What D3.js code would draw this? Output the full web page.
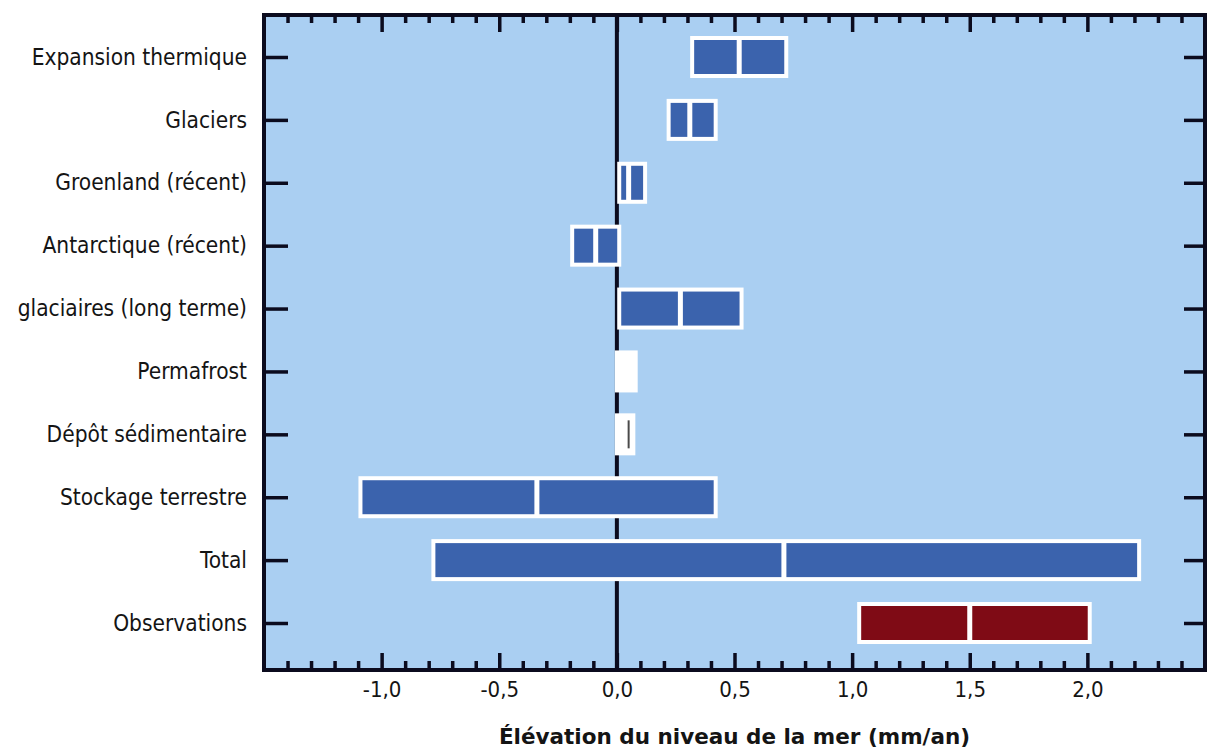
<!DOCTYPE html>
<html lang="fr">
<head>
<meta charset="utf-8">
<script src="https://cdn.jsdelivr.net/npm/d3@7"></script>
<style>
  html, body { margin: 0; padding: 0; background: #ffffff; }
  svg { display: block; }
  .lab { font-family: "DejaVu Sans Condensed", "DejaVu Sans", sans-serif; fill: #141414; }
</style>
</head>
<body>
<svg id="chart" width="1209" height="749"></svg>
<script>
// Contributions to sea-level rise (mm/an): lower bound, central value, upper bound
const categories = [
  "Expansion thermique",
  "Glaciers",
  "Groenland (récent)",
  "Antarctique (récent)",
  "glaciaires (long terme)",
  "Permafrost",
  "Dépôt sédimentaire",
  "Stockage terrestre",
  "Total",
  "Observations"
];
const lowValues  = [0.32, 0.22, 0.01, -0.19, 0.01, 0.00, 0.00, -1.09, -0.78, 1.03];
const midValues  = [0.52, 0.31, 0.05, -0.09, 0.27, null, 0.05, -0.34, 0.71, 1.50];
const highValues = [0.72, 0.42, 0.12,  0.01, 0.53, 0.08, 0.07,  0.42, 2.22, 2.01];

// Rows without a quantified range, and the observed row
const unquantified = ["Permafrost", "Dépôt sédimentaire"];
const observed = ["Observations"];

const xMajorTicks = [-1.0, -0.5, 0.0, 0.5, 1.0, 1.5, 2.0];
const xMajorLabels = ["-1,0", "-0,5", "0,0", "0,5", "1,0", "1,5", "2,0"];
const xDomain = [-1.5, 2.5];
const xTitle = "Élévation du niveau de la mer (mm/an)";

const rows = categories.map((c, i) => ({
  name: c, lo: lowValues[i], mid: midValues[i], hi: highValues[i]
}));

const svg = d3.select("#chart");
const plot = { left: 264, right: 1205, top: 15, bottom: 670 };

const x = d3.scaleLinear().domain(xDomain).range([plot.left, plot.right]);
const y = d3.scalePoint().domain(categories).range([57, 623]);

const minorTicks = d3.range(-14, 25).map(v => v / 10)
  .filter(v => !xMajorTicks.some(m => Math.abs(m - v) < 1e-9));

const ink = "#0b0b1e";
const blue = "#3b63ad";
const red = "#7f0b15";
const bg = "#aacff2";

// plot background
svg.append("rect")
  .attr("x", plot.left).attr("y", plot.top)
  .attr("width", plot.right - plot.left).attr("height", plot.bottom - plot.top)
  .attr("fill", bg);

// zero line
svg.append("line")
  .attr("x1", x(0)).attr("x2", x(0))
  .attr("y1", plot.top).attr("y2", plot.bottom)
  .attr("stroke", ink).attr("stroke-width", 4);

function styleAxis(g, width) {
  g.select(".domain").remove();
  g.selectAll(".tick line").attr("stroke", ink).attr("stroke-width", width);
}

// bottom axis: minor and major ticks pointing inward
svg.append("g")
  .attr("transform", `translate(0,${plot.bottom})`)
  .call(d3.axisBottom(x).tickValues(minorTicks).tickSize(-9).tickFormat(""))
  .call(g => styleAxis(g, 3.5));

svg.append("g")
  .attr("transform", `translate(0,${plot.bottom})`)
  .call(d3.axisBottom(x).tickValues(xMajorTicks).tickSize(-17).tickPadding(11)
    .tickFormat((d, i) => xMajorLabels[i]))
  .call(g => styleAxis(g, 3.5))
  .call(g => g.selectAll(".tick text")
    .attr("class", "lab")
    .attr("font-size", 22)
    .attr("dy", "0.72em"));

// top axis
svg.append("g")
  .attr("transform", `translate(0,${plot.top})`)
  .call(d3.axisTop(x).tickValues(minorTicks).tickSize(-8).tickFormat(""))
  .call(g => styleAxis(g, 3.5));

svg.append("g")
  .attr("transform", `translate(0,${plot.top})`)
  .call(d3.axisTop(x).tickValues(xMajorTicks).tickSize(-17).tickFormat(""))
  .call(g => styleAxis(g, 3.5));

// left axis with category labels
svg.append("g")
  .attr("transform", `translate(${plot.left},0)`)
  .call(d3.axisLeft(y).tickSize(-24).tickPadding(17))
  .call(g => styleAxis(g, 3.5))
  .call(g => g.selectAll(".tick text")
    .attr("class", "lab")
    .attr("font-size", 22.5));

// right axis
svg.append("g")
  .attr("transform", `translate(${plot.right},0)`)
  .call(d3.axisRight(y).tickSize(-21).tickFormat(""))
  .call(g => styleAxis(g, 3.5));

// range bars
const barH = 38;
const bars = svg.append("g");

bars.selectAll("rect.range")
  .data(rows)
  .join("rect")
  .attr("class", "range")
  .attr("x", d => x(d.lo))
  .attr("width", d => x(d.hi) - x(d.lo))
  .attr("y", d => y(d.name) - barH / 2)
  .attr("height", barH)
  .attr("fill", d => unquantified.includes(d.name) ? "#ffffff"
                   : observed.includes(d.name) ? red : blue)
  .attr("stroke", "#ffffff")
  .attr("stroke-width", 4);

// central value dividers
bars.selectAll("line.mid")
  .data(rows.filter(d => d.mid !== null))
  .join("line")
  .attr("class", "mid")
  .attr("x1", d => x(d.mid)).attr("x2", d => x(d.mid))
  .attr("y1", d => y(d.name) - barH / 2 + (unquantified.includes(d.name) ? 5 : 0))
  .attr("y2", d => y(d.name) + barH / 2 - (unquantified.includes(d.name) ? 5 : 0))
  .attr("stroke", d => unquantified.includes(d.name) ? "#4a4a4a" : "#ffffff")
  .attr("stroke-width", d => unquantified.includes(d.name) ? 2 : 5);

// frame
svg.append("rect")
  .attr("x", plot.left).attr("y", plot.top)
  .attr("width", plot.right - plot.left).attr("height", plot.bottom - plot.top)
  .attr("fill", "none")
  .attr("stroke", ink).attr("stroke-width", 4);

// axis title
svg.append("text")
  .attr("x", (plot.left + plot.right) / 2)
  .attr("y", 736)
  .attr("text-anchor", "middle")
  .attr("dominant-baseline", "central")
  .attr("font-family", "'DejaVu Sans', sans-serif")
  .attr("font-weight", "bold")
  .attr("font-size", 21.5)
  .attr("fill", "#141414")
  .text(xTitle);
</script>
</body>
</html>
